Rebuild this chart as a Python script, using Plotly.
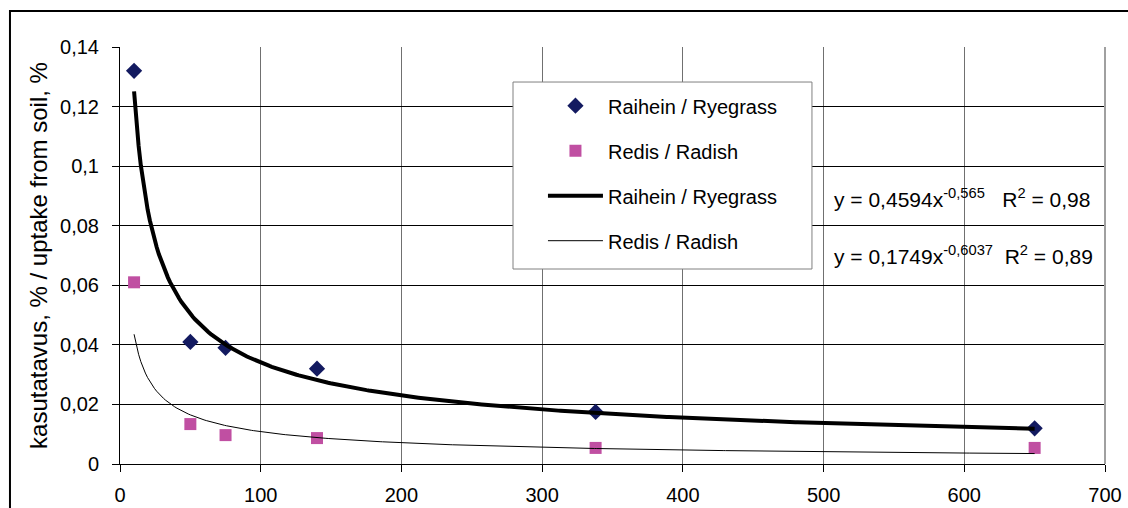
import numpy as np
import plotly.graph_objects as go

# Data
x_vals = [10, 50, 75, 140, 338, 650]
ryegrass = [0.132, 0.041, 0.039, 0.032, 0.0175, 0.012]
radish = [0.061, 0.0134, 0.0097, 0.0087, 0.0054, 0.0054]

# Power trend line coefficients as shown in the chart
rye_coef, rye_exp, rye_r2 = 0.4594, -0.565, "0,98"
rad_coef, rad_exp, rad_r2 = 0.1749, -0.6037, "0,89"

series_names = ["Raihein / Ryegrass", "Redis / Radish"]
y_title = "kasutatavus, % / uptake from soil, %"

FONT = "Liberation Sans, Arial, sans-serif"

xt = np.linspace(min(x_vals), max(x_vals), 400)
rye_trend = rye_coef * xt ** rye_exp
rad_trend = rad_coef * xt ** rad_exp

fig = go.Figure()
fig.add_trace(go.Scatter(
    x=x_vals, y=ryegrass, mode="markers", name=series_names[0],
    marker=dict(symbol="diamond", size=12.5, color="#131a60"),
    legendgroup="a", cliponaxis=False))
fig.add_trace(go.Scatter(
    x=x_vals, y=radish, mode="markers", name=series_names[1],
    marker=dict(symbol="square", size=12, color="#c04fa2"),
    legendgroup="b", cliponaxis=False))
fig.add_trace(go.Scatter(
    x=xt, y=rye_trend, mode="lines", name=series_names[0],
    line=dict(color="black", width=4), legendgroup="c"))
fig.add_trace(go.Scatter(
    x=xt, y=rad_trend, mode="lines", name=series_names[1],
    line=dict(color="black", width=1), legendgroup="d"))

def fmt(v):
    return str(v).replace(".", ",")

fig.add_annotation(x=506, y=0.0893, xanchor="left", yanchor="middle", showarrow=False,
                   text=f"y = {fmt(rye_coef)}x<sup>{fmt(rye_exp)}</sup>   R<sup>2</sup> = {rye_r2}",
                   font=dict(size=21, color="black", family=FONT))
fig.add_annotation(x=506, y=0.0701, xanchor="left", yanchor="middle", showarrow=False,
                   text=f"y = {fmt(rad_coef)}x<sup>{fmt(rad_exp)}</sup>  R<sup>2</sup> = {rad_r2}",
                   font=dict(size=21, color="black", family=FONT))

# outer chart border (left and top visible)
fig.add_shape(type="rect", xref="paper", yref="paper",
              x0=-0.1117, x1=1.1, y0=-0.3, y1=1.0863,
              line=dict(color="black", width=2), layer="below")
# right plot-area border
fig.add_shape(type="line", xref="paper", yref="paper", x0=1, x1=1, y0=0, y1=1,
              line=dict(color="#a0a0a0", width=2))
# legend box
fig.add_shape(type="rect", xref="paper", yref="paper",
              x0=0.399, x1=0.7025, y0=0.4676, y1=0.916,
              line=dict(color="#808080", width=1), fillcolor="white", layer="above")

fig.update_layout(
    width=1128, height=508,
    margin=dict(l=120, r=23, t=47, b=44, autoexpand=False),
    paper_bgcolor="white", plot_bgcolor="white",
    separators=", ",
    font=dict(family=FONT, size=20, color="black"),
    showlegend=True,
    legend=dict(x=0.4294, y=0.906, xanchor="left", yanchor="top",
                bgcolor="rgba(0,0,0,0)", borderwidth=0,
                font=dict(size=20, family=FONT), tracegroupgap=16,
                itemwidth=55, traceorder="grouped"),
    xaxis=dict(range=[0, 700], dtick=100, tick0=0, showgrid=True,
               gridcolor="#707070", gridwidth=1, zeroline=False,
               showline=True, linecolor="black", linewidth=1,
               ticks="outside", ticklen=7, tickcolor="black",
               ticklabelstandoff=6, automargin=False,
               tickfont=dict(size=20), fixedrange=True),
    yaxis=dict(range=[0, 0.14], dtick=0.02, tick0=0, showgrid=True,
               gridcolor="black", gridwidth=1, zeroline=False,
               showline=True, linecolor="black", linewidth=1,
               ticks="outside", ticklen=7, tickcolor="black",
               ticklabelstandoff=9, automargin=False,
               tickfont=dict(size=20),
               title=dict(text=y_title, font=dict(size=24), standoff=5)),
)

fig.write_html("out.html")
